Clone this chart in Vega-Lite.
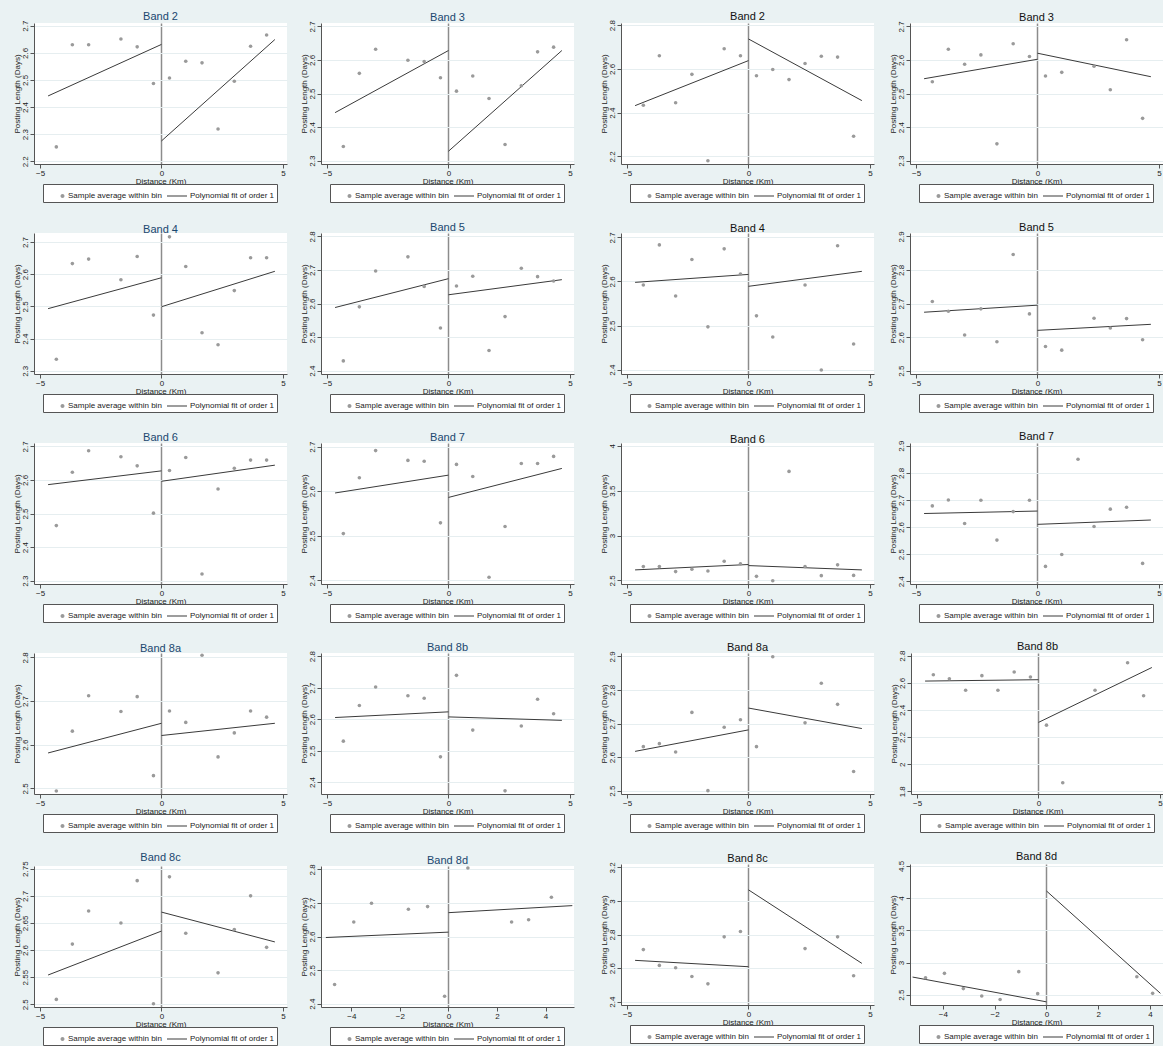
{
"$schema":"https://vega.github.io/schema/vega-lite/v6.json",
"background":"#eaf2f3",
"padding":{"left":12,"top":10,"right":0,"bottom":0},
"datasets":{
"pts":[
{"g":"L","b":"2","s":"Sample average within bin","x":-4.33,"y":2.253},{"g":"L","b":"2","s":"Sample average within bin","x":-3.67,"y":2.630},{"g":"L","b":"2","s":"Sample average within bin","x":-3,"y":2.630},{"g":"L","b":"2","s":"Sample average within bin","x":-1.67,"y":2.651},{"g":"L","b":"2","s":"Sample average within bin","x":-1,"y":2.622},{"g":"L","b":"2","s":"Sample average within bin","x":-0.33,"y":2.487},{"g":"L","b":"2","s":"Sample average within bin","x":0.33,"y":2.507},{"g":"L","b":"2","s":"Sample average within bin","x":1,"y":2.569},{"g":"L","b":"2","s":"Sample average within bin","x":1.67,"y":2.563},{"g":"L","b":"2","s":"Sample average within bin","x":2.33,"y":2.319},{"g":"L","b":"2","s":"Sample average within bin","x":3,"y":2.495},{"g":"L","b":"2","s":"Sample average within bin","x":3.67,"y":2.624},{"g":"L","b":"2","s":"Sample average within bin","x":4.33,"y":2.666},
{"g":"L","b":"3","s":"Sample average within bin","x":-4.33,"y":2.342},{"g":"L","b":"3","s":"Sample average within bin","x":-3.67,"y":2.560},{"g":"L","b":"3","s":"Sample average within bin","x":-3,"y":2.632},{"g":"L","b":"3","s":"Sample average within bin","x":-1.67,"y":2.599},{"g":"L","b":"3","s":"Sample average within bin","x":-1,"y":2.595},{"g":"L","b":"3","s":"Sample average within bin","x":-0.33,"y":2.547},{"g":"L","b":"3","s":"Sample average within bin","x":0.33,"y":2.507},{"g":"L","b":"3","s":"Sample average within bin","x":1,"y":2.552},{"g":"L","b":"3","s":"Sample average within bin","x":1.67,"y":2.485},{"g":"L","b":"3","s":"Sample average within bin","x":2.33,"y":2.348},{"g":"L","b":"3","s":"Sample average within bin","x":3,"y":2.523},{"g":"L","b":"3","s":"Sample average within bin","x":3.67,"y":2.624},{"g":"L","b":"3","s":"Sample average within bin","x":4.33,"y":2.638},
{"g":"L","b":"4","s":"Sample average within bin","x":-4.33,"y":2.336},{"g":"L","b":"4","s":"Sample average within bin","x":-3.67,"y":2.633},{"g":"L","b":"4","s":"Sample average within bin","x":-3,"y":2.647},{"g":"L","b":"4","s":"Sample average within bin","x":-1.67,"y":2.583},{"g":"L","b":"4","s":"Sample average within bin","x":-1,"y":2.655},{"g":"L","b":"4","s":"Sample average within bin","x":-0.33,"y":2.473},{"g":"L","b":"4","s":"Sample average within bin","x":0.33,"y":2.716},{"g":"L","b":"4","s":"Sample average within bin","x":1,"y":2.624},{"g":"L","b":"4","s":"Sample average within bin","x":1.67,"y":2.418},{"g":"L","b":"4","s":"Sample average within bin","x":2.33,"y":2.381},{"g":"L","b":"4","s":"Sample average within bin","x":3,"y":2.549},{"g":"L","b":"4","s":"Sample average within bin","x":3.67,"y":2.651},{"g":"L","b":"4","s":"Sample average within bin","x":4.33,"y":2.651},
{"g":"L","b":"5","s":"Sample average within bin","x":-4.33,"y":2.429},{"g":"L","b":"5","s":"Sample average within bin","x":-3.67,"y":2.590},{"g":"L","b":"5","s":"Sample average within bin","x":-3,"y":2.697},{"g":"L","b":"5","s":"Sample average within bin","x":-1.67,"y":2.739},{"g":"L","b":"5","s":"Sample average within bin","x":-1,"y":2.651},{"g":"L","b":"5","s":"Sample average within bin","x":-0.33,"y":2.527},{"g":"L","b":"5","s":"Sample average within bin","x":0.33,"y":2.652},{"g":"L","b":"5","s":"Sample average within bin","x":1,"y":2.681},{"g":"L","b":"5","s":"Sample average within bin","x":1.67,"y":2.460},{"g":"L","b":"5","s":"Sample average within bin","x":2.33,"y":2.561},{"g":"L","b":"5","s":"Sample average within bin","x":3,"y":2.705},{"g":"L","b":"5","s":"Sample average within bin","x":3.67,"y":2.680},{"g":"L","b":"5","s":"Sample average within bin","x":4.33,"y":2.667},
{"g":"L","b":"6","s":"Sample average within bin","x":-4.33,"y":2.464},{"g":"L","b":"6","s":"Sample average within bin","x":-3.67,"y":2.623},{"g":"L","b":"6","s":"Sample average within bin","x":-3,"y":2.687},{"g":"L","b":"6","s":"Sample average within bin","x":-1.67,"y":2.669},{"g":"L","b":"6","s":"Sample average within bin","x":-1,"y":2.642},{"g":"L","b":"6","s":"Sample average within bin","x":-0.33,"y":2.501},{"g":"L","b":"6","s":"Sample average within bin","x":0.33,"y":2.628},{"g":"L","b":"6","s":"Sample average within bin","x":1,"y":2.667},{"g":"L","b":"6","s":"Sample average within bin","x":1.67,"y":2.320},{"g":"L","b":"6","s":"Sample average within bin","x":2.33,"y":2.573},{"g":"L","b":"6","s":"Sample average within bin","x":3,"y":2.635},{"g":"L","b":"6","s":"Sample average within bin","x":3.67,"y":2.659},{"g":"L","b":"6","s":"Sample average within bin","x":4.33,"y":2.659},
{"g":"L","b":"7","s":"Sample average within bin","x":-4.33,"y":2.505},{"g":"L","b":"7","s":"Sample average within bin","x":-3.67,"y":2.630},{"g":"L","b":"7","s":"Sample average within bin","x":-3,"y":2.691},{"g":"L","b":"7","s":"Sample average within bin","x":-1.67,"y":2.669},{"g":"L","b":"7","s":"Sample average within bin","x":-1,"y":2.667},{"g":"L","b":"7","s":"Sample average within bin","x":-0.33,"y":2.529},{"g":"L","b":"7","s":"Sample average within bin","x":0.33,"y":2.660},{"g":"L","b":"7","s":"Sample average within bin","x":1,"y":2.633},{"g":"L","b":"7","s":"Sample average within bin","x":1.67,"y":2.407},{"g":"L","b":"7","s":"Sample average within bin","x":2.33,"y":2.521},{"g":"L","b":"7","s":"Sample average within bin","x":3,"y":2.662},{"g":"L","b":"7","s":"Sample average within bin","x":3.67,"y":2.662},{"g":"L","b":"7","s":"Sample average within bin","x":4.33,"y":2.678},
{"g":"L","b":"8a","s":"Sample average within bin","x":-4.33,"y":2.494},{"g":"L","b":"8a","s":"Sample average within bin","x":-3.67,"y":2.631},{"g":"L","b":"8a","s":"Sample average within bin","x":-3,"y":2.712},{"g":"L","b":"8a","s":"Sample average within bin","x":-1.67,"y":2.676},{"g":"L","b":"8a","s":"Sample average within bin","x":-1,"y":2.710},{"g":"L","b":"8a","s":"Sample average within bin","x":-0.33,"y":2.529},{"g":"L","b":"8a","s":"Sample average within bin","x":0.33,"y":2.677},{"g":"L","b":"8a","s":"Sample average within bin","x":1,"y":2.651},{"g":"L","b":"8a","s":"Sample average within bin","x":1.67,"y":2.805},{"g":"L","b":"8a","s":"Sample average within bin","x":2.33,"y":2.572},{"g":"L","b":"8a","s":"Sample average within bin","x":3,"y":2.627},{"g":"L","b":"8a","s":"Sample average within bin","x":3.67,"y":2.677},{"g":"L","b":"8a","s":"Sample average within bin","x":4.33,"y":2.663},
{"g":"L","b":"8b","s":"Sample average within bin","x":-4.33,"y":2.530},{"g":"L","b":"8b","s":"Sample average within bin","x":-3.67,"y":2.643},{"g":"L","b":"8b","s":"Sample average within bin","x":-3,"y":2.702},{"g":"L","b":"8b","s":"Sample average within bin","x":-1.67,"y":2.674},{"g":"L","b":"8b","s":"Sample average within bin","x":-1,"y":2.666},{"g":"L","b":"8b","s":"Sample average within bin","x":-0.33,"y":2.480},{"g":"L","b":"8b","s":"Sample average within bin","x":0.33,"y":2.739},{"g":"L","b":"8b","s":"Sample average within bin","x":1,"y":2.565},{"g":"L","b":"8b","s":"Sample average within bin","x":2.33,"y":2.372},{"g":"L","b":"8b","s":"Sample average within bin","x":3,"y":2.578},{"g":"L","b":"8b","s":"Sample average within bin","x":3.67,"y":2.663},{"g":"L","b":"8b","s":"Sample average within bin","x":4.33,"y":2.617},
{"g":"L","b":"8c","s":"Sample average within bin","x":-4.33,"y":2.509},{"g":"L","b":"8c","s":"Sample average within bin","x":-3.67,"y":2.611},{"g":"L","b":"8c","s":"Sample average within bin","x":-3,"y":2.672},{"g":"L","b":"8c","s":"Sample average within bin","x":-1.67,"y":2.650},{"g":"L","b":"8c","s":"Sample average within bin","x":-1,"y":2.728},{"g":"L","b":"8c","s":"Sample average within bin","x":-0.33,"y":2.501},{"g":"L","b":"8c","s":"Sample average within bin","x":0.33,"y":2.735},{"g":"L","b":"8c","s":"Sample average within bin","x":1,"y":2.631},{"g":"L","b":"8c","s":"Sample average within bin","x":2.33,"y":2.558},{"g":"L","b":"8c","s":"Sample average within bin","x":3,"y":2.638},{"g":"L","b":"8c","s":"Sample average within bin","x":3.67,"y":2.700},{"g":"L","b":"8c","s":"Sample average within bin","x":4.33,"y":2.605},
{"g":"L","b":"8d","s":"Sample average within bin","x":-4.69,"y":2.457},{"g":"L","b":"8d","s":"Sample average within bin","x":-3.9,"y":2.643},{"g":"L","b":"8d","s":"Sample average within bin","x":-3.17,"y":2.699},{"g":"L","b":"8d","s":"Sample average within bin","x":-1.65,"y":2.681},{"g":"L","b":"8d","s":"Sample average within bin","x":-0.86,"y":2.689},{"g":"L","b":"8d","s":"Sample average within bin","x":-0.16,"y":2.422},{"g":"L","b":"8d","s":"Sample average within bin","x":0.8,"y":2.804},{"g":"L","b":"8d","s":"Sample average within bin","x":2.6,"y":2.643},{"g":"L","b":"8d","s":"Sample average within bin","x":3.3,"y":2.650},{"g":"L","b":"8d","s":"Sample average within bin","x":4.24,"y":2.717},
{"g":"R","b":"2","s":"Sample average within bin","x":-4.33,"y":2.434},{"g":"R","b":"2","s":"Sample average within bin","x":-3.67,"y":2.660},{"g":"R","b":"2","s":"Sample average within bin","x":-3,"y":2.445},{"g":"R","b":"2","s":"Sample average within bin","x":-2.33,"y":2.575},{"g":"R","b":"2","s":"Sample average within bin","x":-1.67,"y":2.180},{"g":"R","b":"2","s":"Sample average within bin","x":-1,"y":2.692},{"g":"R","b":"2","s":"Sample average within bin","x":-0.33,"y":2.660},{"g":"R","b":"2","s":"Sample average within bin","x":0.33,"y":2.569},{"g":"R","b":"2","s":"Sample average within bin","x":1,"y":2.597},{"g":"R","b":"2","s":"Sample average within bin","x":1.67,"y":2.551},{"g":"R","b":"2","s":"Sample average within bin","x":2.33,"y":2.625},{"g":"R","b":"2","s":"Sample average within bin","x":3,"y":2.658},{"g":"R","b":"2","s":"Sample average within bin","x":3.67,"y":2.654},{"g":"R","b":"2","s":"Sample average within bin","x":4.33,"y":2.292},
{"g":"R","b":"3","s":"Sample average within bin","x":-4.33,"y":2.535},{"g":"R","b":"3","s":"Sample average within bin","x":-3.67,"y":2.632},{"g":"R","b":"3","s":"Sample average within bin","x":-3,"y":2.587},{"g":"R","b":"3","s":"Sample average within bin","x":-2.33,"y":2.615},{"g":"R","b":"3","s":"Sample average within bin","x":-1.67,"y":2.350},{"g":"R","b":"3","s":"Sample average within bin","x":-1,"y":2.648},{"g":"R","b":"3","s":"Sample average within bin","x":-0.33,"y":2.610},{"g":"R","b":"3","s":"Sample average within bin","x":0.33,"y":2.552},{"g":"R","b":"3","s":"Sample average within bin","x":1,"y":2.563},{"g":"R","b":"3","s":"Sample average within bin","x":2.33,"y":2.581},{"g":"R","b":"3","s":"Sample average within bin","x":3,"y":2.511},{"g":"R","b":"3","s":"Sample average within bin","x":3.67,"y":2.660},{"g":"R","b":"3","s":"Sample average within bin","x":4.33,"y":2.426},
{"g":"R","b":"4","s":"Sample average within bin","x":-4.33,"y":2.592},{"g":"R","b":"4","s":"Sample average within bin","x":-3.67,"y":2.683},{"g":"R","b":"4","s":"Sample average within bin","x":-3,"y":2.567},{"g":"R","b":"4","s":"Sample average within bin","x":-2.33,"y":2.650},{"g":"R","b":"4","s":"Sample average within bin","x":-1.67,"y":2.497},{"g":"R","b":"4","s":"Sample average within bin","x":-1,"y":2.674},{"g":"R","b":"4","s":"Sample average within bin","x":-0.33,"y":2.617},{"g":"R","b":"4","s":"Sample average within bin","x":0.33,"y":2.522},{"g":"R","b":"4","s":"Sample average within bin","x":1,"y":2.474},{"g":"R","b":"4","s":"Sample average within bin","x":2.33,"y":2.592},{"g":"R","b":"4","s":"Sample average within bin","x":3,"y":2.399},{"g":"R","b":"4","s":"Sample average within bin","x":3.67,"y":2.681},{"g":"R","b":"4","s":"Sample average within bin","x":4.33,"y":2.458},
{"g":"R","b":"5","s":"Sample average within bin","x":-4.33,"y":2.706},{"g":"R","b":"5","s":"Sample average within bin","x":-3.67,"y":2.677},{"g":"R","b":"5","s":"Sample average within bin","x":-3,"y":2.606},{"g":"R","b":"5","s":"Sample average within bin","x":-2.33,"y":2.684},{"g":"R","b":"5","s":"Sample average within bin","x":-1.67,"y":2.586},{"g":"R","b":"5","s":"Sample average within bin","x":-1,"y":2.846},{"g":"R","b":"5","s":"Sample average within bin","x":-0.33,"y":2.669},{"g":"R","b":"5","s":"Sample average within bin","x":0.33,"y":2.572},{"g":"R","b":"5","s":"Sample average within bin","x":1,"y":2.561},{"g":"R","b":"5","s":"Sample average within bin","x":2.33,"y":2.656},{"g":"R","b":"5","s":"Sample average within bin","x":3,"y":2.627},{"g":"R","b":"5","s":"Sample average within bin","x":3.67,"y":2.655},{"g":"R","b":"5","s":"Sample average within bin","x":4.33,"y":2.592},
{"g":"R","b":"6","s":"Sample average within bin","x":-4.33,"y":2.654},{"g":"R","b":"6","s":"Sample average within bin","x":-3.67,"y":2.654},{"g":"R","b":"6","s":"Sample average within bin","x":-3,"y":2.598},{"g":"R","b":"6","s":"Sample average within bin","x":-2.33,"y":2.624},{"g":"R","b":"6","s":"Sample average within bin","x":-1.67,"y":2.605},{"g":"R","b":"6","s":"Sample average within bin","x":-1,"y":2.714},{"g":"R","b":"6","s":"Sample average within bin","x":-0.33,"y":2.684},{"g":"R","b":"6","s":"Sample average within bin","x":0.33,"y":2.545},{"g":"R","b":"6","s":"Sample average within bin","x":1,"y":2.496},{"g":"R","b":"6","s":"Sample average within bin","x":1.67,"y":3.714},{"g":"R","b":"6","s":"Sample average within bin","x":2.33,"y":2.654},{"g":"R","b":"6","s":"Sample average within bin","x":3,"y":2.553},{"g":"R","b":"6","s":"Sample average within bin","x":3.67,"y":2.673},{"g":"R","b":"6","s":"Sample average within bin","x":4.33,"y":2.556},
{"g":"R","b":"7","s":"Sample average within bin","x":-4.33,"y":2.678},{"g":"R","b":"7","s":"Sample average within bin","x":-3.67,"y":2.700},{"g":"R","b":"7","s":"Sample average within bin","x":-3,"y":2.613},{"g":"R","b":"7","s":"Sample average within bin","x":-2.33,"y":2.699},{"g":"R","b":"7","s":"Sample average within bin","x":-1.67,"y":2.552},{"g":"R","b":"7","s":"Sample average within bin","x":-1,"y":2.657},{"g":"R","b":"7","s":"Sample average within bin","x":-0.33,"y":2.699},{"g":"R","b":"7","s":"Sample average within bin","x":0.33,"y":2.455},{"g":"R","b":"7","s":"Sample average within bin","x":1,"y":2.499},{"g":"R","b":"7","s":"Sample average within bin","x":1.67,"y":2.850},{"g":"R","b":"7","s":"Sample average within bin","x":2.33,"y":2.602},{"g":"R","b":"7","s":"Sample average within bin","x":3,"y":2.666},{"g":"R","b":"7","s":"Sample average within bin","x":3.67,"y":2.673},{"g":"R","b":"7","s":"Sample average within bin","x":4.33,"y":2.466},
{"g":"R","b":"8a","s":"Sample average within bin","x":-4.33,"y":2.631},{"g":"R","b":"8a","s":"Sample average within bin","x":-3.67,"y":2.640},{"g":"R","b":"8a","s":"Sample average within bin","x":-3,"y":2.615},{"g":"R","b":"8a","s":"Sample average within bin","x":-2.33,"y":2.733},{"g":"R","b":"8a","s":"Sample average within bin","x":-1.67,"y":2.500},{"g":"R","b":"8a","s":"Sample average within bin","x":-1,"y":2.689},{"g":"R","b":"8a","s":"Sample average within bin","x":-0.33,"y":2.711},{"g":"R","b":"8a","s":"Sample average within bin","x":0.33,"y":2.631},{"g":"R","b":"8a","s":"Sample average within bin","x":1,"y":2.899},{"g":"R","b":"8a","s":"Sample average within bin","x":2.33,"y":2.702},{"g":"R","b":"8a","s":"Sample average within bin","x":3,"y":2.820},{"g":"R","b":"8a","s":"Sample average within bin","x":3.67,"y":2.757},{"g":"R","b":"8a","s":"Sample average within bin","x":4.33,"y":2.557},
{"g":"R","b":"8b","s":"Sample average within bin","x":-4.33,"y":2.660},{"g":"R","b":"8b","s":"Sample average within bin","x":-3.67,"y":2.630},{"g":"R","b":"8b","s":"Sample average within bin","x":-3,"y":2.545},{"g":"R","b":"8b","s":"Sample average within bin","x":-2.33,"y":2.653},{"g":"R","b":"8b","s":"Sample average within bin","x":-1.67,"y":2.545},{"g":"R","b":"8b","s":"Sample average within bin","x":-1,"y":2.680},{"g":"R","b":"8b","s":"Sample average within bin","x":-0.33,"y":2.643},{"g":"R","b":"8b","s":"Sample average within bin","x":0.33,"y":2.288},{"g":"R","b":"8b","s":"Sample average within bin","x":1,"y":1.863},{"g":"R","b":"8b","s":"Sample average within bin","x":2.33,"y":2.545},{"g":"R","b":"8b","s":"Sample average within bin","x":3.67,"y":2.748},{"g":"R","b":"8b","s":"Sample average within bin","x":4.33,"y":2.505},
{"g":"R","b":"8c","s":"Sample average within bin","x":-4.33,"y":2.710},{"g":"R","b":"8c","s":"Sample average within bin","x":-3.67,"y":2.616},{"g":"R","b":"8c","s":"Sample average within bin","x":-3,"y":2.602},{"g":"R","b":"8c","s":"Sample average within bin","x":-2.33,"y":2.550},{"g":"R","b":"8c","s":"Sample average within bin","x":-1.67,"y":2.506},{"g":"R","b":"8c","s":"Sample average within bin","x":-1,"y":2.786},{"g":"R","b":"8c","s":"Sample average within bin","x":-0.33,"y":2.818},{"g":"R","b":"8c","s":"Sample average within bin","x":2.33,"y":2.716},{"g":"R","b":"8c","s":"Sample average within bin","x":3.67,"y":2.786},{"g":"R","b":"8c","s":"Sample average within bin","x":4.33,"y":2.554},
{"g":"R","b":"8d","s":"Sample average within bin","x":-4.67,"y":2.763},{"g":"R","b":"8d","s":"Sample average within bin","x":-3.94,"y":2.832},{"g":"R","b":"8d","s":"Sample average within bin","x":-3.21,"y":2.595},{"g":"R","b":"8d","s":"Sample average within bin","x":-2.5,"y":2.479},{"g":"R","b":"8d","s":"Sample average within bin","x":-1.79,"y":2.426},{"g":"R","b":"8d","s":"Sample average within bin","x":-1.07,"y":2.858},{"g":"R","b":"8d","s":"Sample average within bin","x":-0.34,"y":2.516},{"g":"R","b":"8d","s":"Sample average within bin","x":3.49,"y":2.779},{"g":"R","b":"8d","s":"Sample average within bin","x":4.1,"y":2.521}
],
"fits":[
{"g":"L","b":"2","seg":"l","x":-4.67,"y":2.441},{"g":"L","b":"2","seg":"l","x":0,"y":2.631},{"g":"L","b":"2","seg":"r","x":0,"y":2.275},{"g":"L","b":"2","seg":"r","x":4.67,"y":2.649},
{"g":"L","b":"3","seg":"l","x":-4.67,"y":2.443},{"g":"L","b":"3","seg":"l","x":0,"y":2.628},{"g":"L","b":"3","seg":"r","x":0,"y":2.328},{"g":"L","b":"3","seg":"r","x":4.67,"y":2.628},
{"g":"L","b":"4","seg":"l","x":-4.67,"y":2.493},{"g":"L","b":"4","seg":"l","x":0,"y":2.589},{"g":"L","b":"4","seg":"r","x":0,"y":2.499},{"g":"L","b":"4","seg":"r","x":4.67,"y":2.609},
{"g":"L","b":"5","seg":"l","x":-4.67,"y":2.588},{"g":"L","b":"5","seg":"l","x":0,"y":2.674},{"g":"L","b":"5","seg":"r","x":0,"y":2.626},{"g":"L","b":"5","seg":"r","x":4.67,"y":2.671},
{"g":"L","b":"6","seg":"l","x":-4.67,"y":2.586},{"g":"L","b":"6","seg":"l","x":0,"y":2.627},{"g":"L","b":"6","seg":"r","x":0,"y":2.596},{"g":"L","b":"6","seg":"r","x":4.67,"y":2.644},
{"g":"L","b":"7","seg":"l","x":-4.67,"y":2.596},{"g":"L","b":"7","seg":"l","x":0,"y":2.636},{"g":"L","b":"7","seg":"r","x":0,"y":2.586},{"g":"L","b":"7","seg":"r","x":4.67,"y":2.651},
{"g":"L","b":"8a","seg":"l","x":-4.67,"y":2.581},{"g":"L","b":"8a","seg":"l","x":0,"y":2.649},{"g":"L","b":"8a","seg":"r","x":0,"y":2.621},{"g":"L","b":"8a","seg":"r","x":4.67,"y":2.649},
{"g":"L","b":"8b","seg":"l","x":-4.67,"y":2.605},{"g":"L","b":"8b","seg":"l","x":0,"y":2.623},{"g":"L","b":"8b","seg":"r","x":0,"y":2.607},{"g":"L","b":"8b","seg":"r","x":4.67,"y":2.596},
{"g":"L","b":"8c","seg":"l","x":-4.67,"y":2.554},{"g":"L","b":"8c","seg":"l","x":0,"y":2.635},{"g":"L","b":"8c","seg":"r","x":0,"y":2.670},{"g":"L","b":"8c","seg":"r","x":4.67,"y":2.615},
{"g":"L","b":"8d","seg":"l","x":-5.05,"y":2.597},{"g":"L","b":"8d","seg":"l","x":0,"y":2.613},{"g":"L","b":"8d","seg":"r","x":0,"y":2.671},{"g":"L","b":"8d","seg":"r","x":5.1,"y":2.692},
{"g":"R","b":"2","seg":"l","x":-4.67,"y":2.432},{"g":"R","b":"2","seg":"l","x":0,"y":2.638},{"g":"R","b":"2","seg":"r","x":0,"y":2.737},{"g":"R","b":"2","seg":"r","x":4.67,"y":2.455},
{"g":"R","b":"3","seg":"l","x":-4.67,"y":2.544},{"g":"R","b":"3","seg":"l","x":0,"y":2.602},{"g":"R","b":"3","seg":"r","x":0,"y":2.620},{"g":"R","b":"3","seg":"r","x":4.67,"y":2.550},
{"g":"R","b":"4","seg":"l","x":-4.67,"y":2.598},{"g":"R","b":"4","seg":"l","x":0,"y":2.616},{"g":"R","b":"4","seg":"r","x":0,"y":2.589},{"g":"R","b":"4","seg":"r","x":4.67,"y":2.623},
{"g":"R","b":"5","seg":"l","x":-4.67,"y":2.674},{"g":"R","b":"5","seg":"l","x":0,"y":2.695},{"g":"R","b":"5","seg":"r","x":0,"y":2.620},{"g":"R","b":"5","seg":"r","x":4.67,"y":2.638},
{"g":"R","b":"6","seg":"l","x":-4.67,"y":2.617},{"g":"R","b":"6","seg":"l","x":0,"y":2.677},{"g":"R","b":"6","seg":"r","x":0,"y":2.665},{"g":"R","b":"6","seg":"r","x":4.67,"y":2.617},
{"g":"R","b":"7","seg":"l","x":-4.67,"y":2.650},{"g":"R","b":"7","seg":"l","x":0,"y":2.659},{"g":"R","b":"7","seg":"r","x":0,"y":2.610},{"g":"R","b":"7","seg":"r","x":4.67,"y":2.626},
{"g":"R","b":"8a","seg":"l","x":-4.67,"y":2.617},{"g":"R","b":"8a","seg":"l","x":0,"y":2.681},{"g":"R","b":"8a","seg":"r","x":0,"y":2.746},{"g":"R","b":"8a","seg":"r","x":4.67,"y":2.685},
{"g":"R","b":"8b","seg":"l","x":-4.67,"y":2.613},{"g":"R","b":"8b","seg":"l","x":0,"y":2.623},{"g":"R","b":"8b","seg":"r","x":0,"y":2.308},{"g":"R","b":"8b","seg":"r","x":4.67,"y":2.713},
{"g":"R","b":"8c","seg":"l","x":-4.67,"y":2.646},{"g":"R","b":"8c","seg":"l","x":0,"y":2.608},{"g":"R","b":"8c","seg":"r","x":0,"y":3.066},{"g":"R","b":"8c","seg":"r","x":4.67,"y":2.628},
{"g":"R","b":"8d","seg":"l","x":-5.17,"y":2.774},{"g":"R","b":"8d","seg":"l","x":0,"y":2.389},{"g":"R","b":"8d","seg":"r","x":0,"y":4.111},{"g":"R","b":"8d","seg":"r","x":4.4,"y":2.521}
]},
"spacing":25,
"resolve":{"scale":{"shape":"independent","color":"independent"}},
"hconcat":[
{"spacing":18,"resolve":{"scale":{"shape":"independent","color":"independent"}},"vconcat":[
{"spacing":13,"resolve":{"scale":{"shape":"independent","color":"independent"}},"hconcat":[
{"title":{"text":"Band 2","color":"#1a476f"},"width":253,"height":141,"encoding":{"x":{"field":"x","type":"quantitative","title":"Distance (Km)","scale":{"domain":[-5.25,5.17],"nice":false,"zero":false},"axis":{"values":[-5,0,5]}},"y":{"field":"y","type":"quantitative","title":"Posting Length (Days)","scale":{"domain":[2.19,2.71],"nice":false,"zero":false},"axis":{"values":[2.2,2.3,2.4,2.5,2.6,2.7]}}},
"layer":[{"data":{"name":"fits"},"transform":[{"filter":"datum.g=='L'&&datum.b=='2'"}],"mark":{"type":"line","color":"#3a3a3a","strokeWidth":1},"encoding":{"detail":{"field":"seg"}}},
{"data":{"name":"pts"},"transform":[{"filter":"datum.g=='L'&&datum.b=='2'"}],"mark":{"type":"circle","size":13,"color":"#9a9a9a","opacity":1}},
{"data":{"name":"pts"},"transform":[{"filter":"datum.g=='L'&&datum.b=='2'"}],"mark":{"type":"point","filled":true,"size":400,"opacity":0},"encoding":{"shape":{"field":"s","type":"nominal","scale":{"domain":["Sample average within bin","Polynomial fit of order 1"],"range":["M0.55,0A0.2,0.2,0,1,1,0.95,0A0.2,0.2,0,1,1,0.55,0Z","M-1,-0.05L1,-0.05L1,0.05L-1,0.05Z"]},"legend":{"title":null,"orient":"none","legendX":9,"legendY":161,"direction":"horizontal"}},"color":{"field":"s","type":"nominal","scale":{"domain":["Sample average within bin","Polynomial fit of order 1"],"range":["#9a9a9a","#3a3a3a"]},"legend":{"title":null,"orient":"none","legendX":9,"legendY":161,"direction":"horizontal"}}}}]},
{"title":{"text":"Band 3","color":"#1a476f"},"width":253,"height":141,"encoding":{"x":{"field":"x","type":"quantitative","title":"Distance (Km)","scale":{"domain":[-5.25,5.17],"nice":false,"zero":false},"axis":{"values":[-5,0,5]}},"y":{"field":"y","type":"quantitative","title":"Posting Length (Days)","scale":{"domain":[2.29,2.71],"nice":false,"zero":false},"axis":{"values":[2.3,2.4,2.5,2.6,2.7]}}},
"layer":[{"data":{"name":"fits"},"transform":[{"filter":"datum.g=='L'&&datum.b=='3'"}],"mark":{"type":"line","color":"#3a3a3a","strokeWidth":1},"encoding":{"detail":{"field":"seg"}}},
{"data":{"name":"pts"},"transform":[{"filter":"datum.g=='L'&&datum.b=='3'"}],"mark":{"type":"circle","size":13,"color":"#9a9a9a","opacity":1}},
{"data":{"name":"pts"},"transform":[{"filter":"datum.g=='L'&&datum.b=='3'"}],"mark":{"type":"point","filled":true,"size":400,"opacity":0},"encoding":{"shape":{"field":"s","type":"nominal","scale":{"domain":["Sample average within bin","Polynomial fit of order 1"],"range":["M0.55,0A0.2,0.2,0,1,1,0.95,0A0.2,0.2,0,1,1,0.55,0Z","M-1,-0.05L1,-0.05L1,0.05L-1,0.05Z"]},"legend":{"title":null,"orient":"none","legendX":9,"legendY":161,"direction":"horizontal"}},"color":{"field":"s","type":"nominal","scale":{"domain":["Sample average within bin","Polynomial fit of order 1"],"range":["#9a9a9a","#3a3a3a"]},"legend":{"title":null,"orient":"none","legendX":9,"legendY":161,"direction":"horizontal"}}}}]}
]},
{"spacing":13,"resolve":{"scale":{"shape":"independent","color":"independent"}},"hconcat":[
{"title":{"text":"Band 4","color":"#1a476f"},"width":253,"height":141,"encoding":{"x":{"field":"x","type":"quantitative","title":"Distance (Km)","scale":{"domain":[-5.25,5.17],"nice":false,"zero":false},"axis":{"values":[-5,0,5]}},"y":{"field":"y","type":"quantitative","title":"Posting Length (Days)","scale":{"domain":[2.29,2.728],"nice":false,"zero":false},"axis":{"values":[2.3,2.4,2.5,2.6,2.7]}}},
"layer":[{"data":{"name":"fits"},"transform":[{"filter":"datum.g=='L'&&datum.b=='4'"}],"mark":{"type":"line","color":"#3a3a3a","strokeWidth":1},"encoding":{"detail":{"field":"seg"}}},
{"data":{"name":"pts"},"transform":[{"filter":"datum.g=='L'&&datum.b=='4'"}],"mark":{"type":"circle","size":13,"color":"#9a9a9a","opacity":1}},
{"data":{"name":"pts"},"transform":[{"filter":"datum.g=='L'&&datum.b=='4'"}],"mark":{"type":"point","filled":true,"size":400,"opacity":0},"encoding":{"shape":{"field":"s","type":"nominal","scale":{"domain":["Sample average within bin","Polynomial fit of order 1"],"range":["M0.55,0A0.2,0.2,0,1,1,0.95,0A0.2,0.2,0,1,1,0.55,0Z","M-1,-0.05L1,-0.05L1,0.05L-1,0.05Z"]},"legend":{"title":null,"orient":"none","legendX":9,"legendY":161,"direction":"horizontal"}},"color":{"field":"s","type":"nominal","scale":{"domain":["Sample average within bin","Polynomial fit of order 1"],"range":["#9a9a9a","#3a3a3a"]},"legend":{"title":null,"orient":"none","legendX":9,"legendY":161,"direction":"horizontal"}}}}]},
{"title":{"text":"Band 5","color":"#1a476f"},"width":253,"height":141,"encoding":{"x":{"field":"x","type":"quantitative","title":"Distance (Km)","scale":{"domain":[-5.25,5.17],"nice":false,"zero":false},"axis":{"values":[-5,0,5]}},"y":{"field":"y","type":"quantitative","title":"Posting Length (Days)","scale":{"domain":[2.39,2.81],"nice":false,"zero":false},"axis":{"values":[2.4,2.5,2.6,2.7,2.8]}}},
"layer":[{"data":{"name":"fits"},"transform":[{"filter":"datum.g=='L'&&datum.b=='5'"}],"mark":{"type":"line","color":"#3a3a3a","strokeWidth":1},"encoding":{"detail":{"field":"seg"}}},
{"data":{"name":"pts"},"transform":[{"filter":"datum.g=='L'&&datum.b=='5'"}],"mark":{"type":"circle","size":13,"color":"#9a9a9a","opacity":1}},
{"data":{"name":"pts"},"transform":[{"filter":"datum.g=='L'&&datum.b=='5'"}],"mark":{"type":"point","filled":true,"size":400,"opacity":0},"encoding":{"shape":{"field":"s","type":"nominal","scale":{"domain":["Sample average within bin","Polynomial fit of order 1"],"range":["M0.55,0A0.2,0.2,0,1,1,0.95,0A0.2,0.2,0,1,1,0.55,0Z","M-1,-0.05L1,-0.05L1,0.05L-1,0.05Z"]},"legend":{"title":null,"orient":"none","legendX":9,"legendY":161,"direction":"horizontal"}},"color":{"field":"s","type":"nominal","scale":{"domain":["Sample average within bin","Polynomial fit of order 1"],"range":["#9a9a9a","#3a3a3a"]},"legend":{"title":null,"orient":"none","legendX":9,"legendY":161,"direction":"horizontal"}}}}]}
]},
{"spacing":13,"resolve":{"scale":{"shape":"independent","color":"independent"}},"hconcat":[
{"title":{"text":"Band 6","color":"#1a476f"},"width":253,"height":141,"encoding":{"x":{"field":"x","type":"quantitative","title":"Distance (Km)","scale":{"domain":[-5.25,5.17],"nice":false,"zero":false},"axis":{"values":[-5,0,5]}},"y":{"field":"y","type":"quantitative","title":"Posting Length (Days)","scale":{"domain":[2.29,2.71],"nice":false,"zero":false},"axis":{"values":[2.3,2.4,2.5,2.6,2.7]}}},
"layer":[{"data":{"name":"fits"},"transform":[{"filter":"datum.g=='L'&&datum.b=='6'"}],"mark":{"type":"line","color":"#3a3a3a","strokeWidth":1},"encoding":{"detail":{"field":"seg"}}},
{"data":{"name":"pts"},"transform":[{"filter":"datum.g=='L'&&datum.b=='6'"}],"mark":{"type":"circle","size":13,"color":"#9a9a9a","opacity":1}},
{"data":{"name":"pts"},"transform":[{"filter":"datum.g=='L'&&datum.b=='6'"}],"mark":{"type":"point","filled":true,"size":400,"opacity":0},"encoding":{"shape":{"field":"s","type":"nominal","scale":{"domain":["Sample average within bin","Polynomial fit of order 1"],"range":["M0.55,0A0.2,0.2,0,1,1,0.95,0A0.2,0.2,0,1,1,0.55,0Z","M-1,-0.05L1,-0.05L1,0.05L-1,0.05Z"]},"legend":{"title":null,"orient":"none","legendX":9,"legendY":161,"direction":"horizontal"}},"color":{"field":"s","type":"nominal","scale":{"domain":["Sample average within bin","Polynomial fit of order 1"],"range":["#9a9a9a","#3a3a3a"]},"legend":{"title":null,"orient":"none","legendX":9,"legendY":161,"direction":"horizontal"}}}}]},
{"title":{"text":"Band 7","color":"#1a476f"},"width":253,"height":141,"encoding":{"x":{"field":"x","type":"quantitative","title":"Distance (Km)","scale":{"domain":[-5.25,5.17],"nice":false,"zero":false},"axis":{"values":[-5,0,5]}},"y":{"field":"y","type":"quantitative","title":"Posting Length (Days)","scale":{"domain":[2.392,2.708],"nice":false,"zero":false},"axis":{"values":[2.4,2.5,2.6,2.7]}}},
"layer":[{"data":{"name":"fits"},"transform":[{"filter":"datum.g=='L'&&datum.b=='7'"}],"mark":{"type":"line","color":"#3a3a3a","strokeWidth":1},"encoding":{"detail":{"field":"seg"}}},
{"data":{"name":"pts"},"transform":[{"filter":"datum.g=='L'&&datum.b=='7'"}],"mark":{"type":"circle","size":13,"color":"#9a9a9a","opacity":1}},
{"data":{"name":"pts"},"transform":[{"filter":"datum.g=='L'&&datum.b=='7'"}],"mark":{"type":"point","filled":true,"size":400,"opacity":0},"encoding":{"shape":{"field":"s","type":"nominal","scale":{"domain":["Sample average within bin","Polynomial fit of order 1"],"range":["M0.55,0A0.2,0.2,0,1,1,0.95,0A0.2,0.2,0,1,1,0.55,0Z","M-1,-0.05L1,-0.05L1,0.05L-1,0.05Z"]},"legend":{"title":null,"orient":"none","legendX":9,"legendY":161,"direction":"horizontal"}},"color":{"field":"s","type":"nominal","scale":{"domain":["Sample average within bin","Polynomial fit of order 1"],"range":["#9a9a9a","#3a3a3a"]},"legend":{"title":null,"orient":"none","legendX":9,"legendY":161,"direction":"horizontal"}}}}]}
]},
{"spacing":13,"resolve":{"scale":{"shape":"independent","color":"independent"}},"hconcat":[
{"title":{"text":"Band 8a","color":"#1a476f"},"width":253,"height":141,"encoding":{"x":{"field":"x","type":"quantitative","title":"Distance (Km)","scale":{"domain":[-5.25,5.17],"nice":false,"zero":false},"axis":{"values":[-5,0,5]}},"y":{"field":"y","type":"quantitative","title":"Posting Length (Days)","scale":{"domain":[2.487,2.81],"nice":false,"zero":false},"axis":{"values":[2.5,2.6,2.7,2.8]}}},
"layer":[{"data":{"name":"fits"},"transform":[{"filter":"datum.g=='L'&&datum.b=='8a'"}],"mark":{"type":"line","color":"#3a3a3a","strokeWidth":1},"encoding":{"detail":{"field":"seg"}}},
{"data":{"name":"pts"},"transform":[{"filter":"datum.g=='L'&&datum.b=='8a'"}],"mark":{"type":"circle","size":13,"color":"#9a9a9a","opacity":1}},
{"data":{"name":"pts"},"transform":[{"filter":"datum.g=='L'&&datum.b=='8a'"}],"mark":{"type":"point","filled":true,"size":400,"opacity":0},"encoding":{"shape":{"field":"s","type":"nominal","scale":{"domain":["Sample average within bin","Polynomial fit of order 1"],"range":["M0.55,0A0.2,0.2,0,1,1,0.95,0A0.2,0.2,0,1,1,0.55,0Z","M-1,-0.05L1,-0.05L1,0.05L-1,0.05Z"]},"legend":{"title":null,"orient":"none","legendX":9,"legendY":161,"direction":"horizontal"}},"color":{"field":"s","type":"nominal","scale":{"domain":["Sample average within bin","Polynomial fit of order 1"],"range":["#9a9a9a","#3a3a3a"]},"legend":{"title":null,"orient":"none","legendX":9,"legendY":161,"direction":"horizontal"}}}}]},
{"title":{"text":"Band 8b","color":"#1a476f"},"width":253,"height":141,"encoding":{"x":{"field":"x","type":"quantitative","title":"Distance (Km)","scale":{"domain":[-5.25,5.17],"nice":false,"zero":false},"axis":{"values":[-5,0,5]}},"y":{"field":"y","type":"quantitative","title":"Posting Length (Days)","scale":{"domain":[2.362,2.81],"nice":false,"zero":false},"axis":{"values":[2.4,2.5,2.6,2.7,2.8]}}},
"layer":[{"data":{"name":"fits"},"transform":[{"filter":"datum.g=='L'&&datum.b=='8b'"}],"mark":{"type":"line","color":"#3a3a3a","strokeWidth":1},"encoding":{"detail":{"field":"seg"}}},
{"data":{"name":"pts"},"transform":[{"filter":"datum.g=='L'&&datum.b=='8b'"}],"mark":{"type":"circle","size":13,"color":"#9a9a9a","opacity":1}},
{"data":{"name":"pts"},"transform":[{"filter":"datum.g=='L'&&datum.b=='8b'"}],"mark":{"type":"point","filled":true,"size":400,"opacity":0},"encoding":{"shape":{"field":"s","type":"nominal","scale":{"domain":["Sample average within bin","Polynomial fit of order 1"],"range":["M0.55,0A0.2,0.2,0,1,1,0.95,0A0.2,0.2,0,1,1,0.55,0Z","M-1,-0.05L1,-0.05L1,0.05L-1,0.05Z"]},"legend":{"title":null,"orient":"none","legendX":9,"legendY":161,"direction":"horizontal"}},"color":{"field":"s","type":"nominal","scale":{"domain":["Sample average within bin","Polynomial fit of order 1"],"range":["#9a9a9a","#3a3a3a"]},"legend":{"title":null,"orient":"none","legendX":9,"legendY":161,"direction":"horizontal"}}}}]}
]},
{"spacing":13,"resolve":{"scale":{"shape":"independent","color":"independent"}},"hconcat":[
{"title":{"text":"Band 8c","color":"#1a476f"},"width":253,"height":141,"encoding":{"x":{"field":"x","type":"quantitative","title":"Distance (Km)","scale":{"domain":[-5.25,5.17],"nice":false,"zero":false},"axis":{"values":[-5,0,5]}},"y":{"field":"y","type":"quantitative","title":"Posting Length (Days)","scale":{"domain":[2.495,2.755],"nice":false,"zero":false},"axis":{"values":[2.5,2.55,2.6,2.65,2.7,2.75]}}},
"layer":[{"data":{"name":"fits"},"transform":[{"filter":"datum.g=='L'&&datum.b=='8c'"}],"mark":{"type":"line","color":"#3a3a3a","strokeWidth":1},"encoding":{"detail":{"field":"seg"}}},
{"data":{"name":"pts"},"transform":[{"filter":"datum.g=='L'&&datum.b=='8c'"}],"mark":{"type":"circle","size":13,"color":"#9a9a9a","opacity":1}},
{"data":{"name":"pts"},"transform":[{"filter":"datum.g=='L'&&datum.b=='8c'"}],"mark":{"type":"point","filled":true,"size":400,"opacity":0},"encoding":{"shape":{"field":"s","type":"nominal","scale":{"domain":["Sample average within bin","Polynomial fit of order 1"],"range":["M0.55,0A0.2,0.2,0,1,1,0.95,0A0.2,0.2,0,1,1,0.55,0Z","M-1,-0.05L1,-0.05L1,0.05L-1,0.05Z"]},"legend":{"title":null,"orient":"none","legendX":9,"legendY":161,"direction":"horizontal"}},"color":{"field":"s","type":"nominal","scale":{"domain":["Sample average within bin","Polynomial fit of order 1"],"range":["#9a9a9a","#3a3a3a"]},"legend":{"title":null,"orient":"none","legendX":9,"legendY":161,"direction":"horizontal"}}}}]},
{"title":{"text":"Band 8d","color":"#1a476f"},"width":253,"height":141,"encoding":{"x":{"field":"x","type":"quantitative","title":"Distance (Km)","scale":{"domain":[-5.25,5.17],"nice":false,"zero":false},"axis":{"values":[-4,-2,0,2,4]}},"y":{"field":"y","type":"quantitative","title":"Posting Length (Days)","scale":{"domain":[2.39,2.81],"nice":false,"zero":false},"axis":{"values":[2.4,2.5,2.6,2.7,2.8]}}},
"layer":[{"data":{"name":"fits"},"transform":[{"filter":"datum.g=='L'&&datum.b=='8d'"}],"mark":{"type":"line","color":"#3a3a3a","strokeWidth":1},"encoding":{"detail":{"field":"seg"}}},
{"data":{"name":"pts"},"transform":[{"filter":"datum.g=='L'&&datum.b=='8d'"}],"mark":{"type":"circle","size":13,"color":"#9a9a9a","opacity":1}},
{"data":{"name":"pts"},"transform":[{"filter":"datum.g=='L'&&datum.b=='8d'"}],"mark":{"type":"point","filled":true,"size":400,"opacity":0},"encoding":{"shape":{"field":"s","type":"nominal","scale":{"domain":["Sample average within bin","Polynomial fit of order 1"],"range":["M0.55,0A0.2,0.2,0,1,1,0.95,0A0.2,0.2,0,1,1,0.55,0Z","M-1,-0.05L1,-0.05L1,0.05L-1,0.05Z"]},"legend":{"title":null,"orient":"none","legendX":9,"legendY":161,"direction":"horizontal"}},"color":{"field":"s","type":"nominal","scale":{"domain":["Sample average within bin","Polynomial fit of order 1"],"range":["#9a9a9a","#3a3a3a"]},"legend":{"title":null,"orient":"none","legendX":9,"legendY":161,"direction":"horizontal"}}}}]}
]}
]},
{"spacing":18,"resolve":{"scale":{"shape":"independent","color":"independent"}},"vconcat":[
{"spacing":15,"resolve":{"scale":{"shape":"independent","color":"independent"}},"hconcat":[
{"title":{"text":"Band 2","color":"#111111"},"width":253,"height":141,"encoding":{"x":{"field":"x","type":"quantitative","title":"Distance (Km)","scale":{"domain":[-5.25,5.17],"nice":false,"zero":false},"axis":{"values":[-5,0,5]}},"y":{"field":"y","type":"quantitative","title":"Posting Length (Days)","scale":{"domain":[2.165,2.81],"nice":false,"zero":false},"axis":{"values":[2.2,2.4,2.6,2.8]}}},
"layer":[{"data":{"name":"fits"},"transform":[{"filter":"datum.g=='R'&&datum.b=='2'"}],"mark":{"type":"line","color":"#3a3a3a","strokeWidth":1},"encoding":{"detail":{"field":"seg"}}},
{"data":{"name":"pts"},"transform":[{"filter":"datum.g=='R'&&datum.b=='2'"}],"mark":{"type":"circle","size":13,"color":"#9a9a9a","opacity":1}},
{"data":{"name":"pts"},"transform":[{"filter":"datum.g=='R'&&datum.b=='2'"}],"mark":{"type":"point","filled":true,"size":400,"opacity":0},"encoding":{"shape":{"field":"s","type":"nominal","scale":{"domain":["Sample average within bin","Polynomial fit of order 1"],"range":["M0.55,0A0.2,0.2,0,1,1,0.95,0A0.2,0.2,0,1,1,0.55,0Z","M-1,-0.05L1,-0.05L1,0.05L-1,0.05Z"]},"legend":{"title":null,"orient":"none","legendX":9,"legendY":161,"direction":"horizontal"}},"color":{"field":"s","type":"nominal","scale":{"domain":["Sample average within bin","Polynomial fit of order 1"],"range":["#9a9a9a","#3a3a3a"]},"legend":{"title":null,"orient":"none","legendX":9,"legendY":161,"direction":"horizontal"}}}}]},
{"title":{"text":"Band 3","color":"#111111"},"width":253,"height":141,"encoding":{"x":{"field":"x","type":"quantitative","title":"Distance (Km)","scale":{"domain":[-5.25,5.17],"nice":false,"zero":false},"axis":{"values":[-5,0,5]}},"y":{"field":"y","type":"quantitative","title":"Posting Length (Days)","scale":{"domain":[2.29,2.71],"nice":false,"zero":false},"axis":{"values":[2.3,2.4,2.5,2.6,2.7]}}},
"layer":[{"data":{"name":"fits"},"transform":[{"filter":"datum.g=='R'&&datum.b=='3'"}],"mark":{"type":"line","color":"#3a3a3a","strokeWidth":1},"encoding":{"detail":{"field":"seg"}}},
{"data":{"name":"pts"},"transform":[{"filter":"datum.g=='R'&&datum.b=='3'"}],"mark":{"type":"circle","size":13,"color":"#9a9a9a","opacity":1}},
{"data":{"name":"pts"},"transform":[{"filter":"datum.g=='R'&&datum.b=='3'"}],"mark":{"type":"point","filled":true,"size":400,"opacity":0},"encoding":{"shape":{"field":"s","type":"nominal","scale":{"domain":["Sample average within bin","Polynomial fit of order 1"],"range":["M0.55,0A0.2,0.2,0,1,1,0.95,0A0.2,0.2,0,1,1,0.55,0Z","M-1,-0.05L1,-0.05L1,0.05L-1,0.05Z"]},"legend":{"title":null,"orient":"none","legendX":9,"legendY":161,"direction":"horizontal"}},"color":{"field":"s","type":"nominal","scale":{"domain":["Sample average within bin","Polynomial fit of order 1"],"range":["#9a9a9a","#3a3a3a"]},"legend":{"title":null,"orient":"none","legendX":9,"legendY":161,"direction":"horizontal"}}}}]}
]},
{"spacing":15,"resolve":{"scale":{"shape":"independent","color":"independent"}},"hconcat":[
{"title":{"text":"Band 4","color":"#111111"},"width":253,"height":141,"encoding":{"x":{"field":"x","type":"quantitative","title":"Distance (Km)","scale":{"domain":[-5.25,5.17],"nice":false,"zero":false},"axis":{"values":[-5,0,5]}},"y":{"field":"y","type":"quantitative","title":"Posting Length (Days)","scale":{"domain":[2.39,2.71],"nice":false,"zero":false},"axis":{"values":[2.4,2.5,2.6,2.7]}}},
"layer":[{"data":{"name":"fits"},"transform":[{"filter":"datum.g=='R'&&datum.b=='4'"}],"mark":{"type":"line","color":"#3a3a3a","strokeWidth":1},"encoding":{"detail":{"field":"seg"}}},
{"data":{"name":"pts"},"transform":[{"filter":"datum.g=='R'&&datum.b=='4'"}],"mark":{"type":"circle","size":13,"color":"#9a9a9a","opacity":1}},
{"data":{"name":"pts"},"transform":[{"filter":"datum.g=='R'&&datum.b=='4'"}],"mark":{"type":"point","filled":true,"size":400,"opacity":0},"encoding":{"shape":{"field":"s","type":"nominal","scale":{"domain":["Sample average within bin","Polynomial fit of order 1"],"range":["M0.55,0A0.2,0.2,0,1,1,0.95,0A0.2,0.2,0,1,1,0.55,0Z","M-1,-0.05L1,-0.05L1,0.05L-1,0.05Z"]},"legend":{"title":null,"orient":"none","legendX":9,"legendY":161,"direction":"horizontal"}},"color":{"field":"s","type":"nominal","scale":{"domain":["Sample average within bin","Polynomial fit of order 1"],"range":["#9a9a9a","#3a3a3a"]},"legend":{"title":null,"orient":"none","legendX":9,"legendY":161,"direction":"horizontal"}}}}]},
{"title":{"text":"Band 5","color":"#111111"},"width":253,"height":141,"encoding":{"x":{"field":"x","type":"quantitative","title":"Distance (Km)","scale":{"domain":[-5.25,5.17],"nice":false,"zero":false},"axis":{"values":[-5,0,5]}},"y":{"field":"y","type":"quantitative","title":"Posting Length (Days)","scale":{"domain":[2.49,2.91],"nice":false,"zero":false},"axis":{"values":[2.5,2.6,2.7,2.8,2.9]}}},
"layer":[{"data":{"name":"fits"},"transform":[{"filter":"datum.g=='R'&&datum.b=='5'"}],"mark":{"type":"line","color":"#3a3a3a","strokeWidth":1},"encoding":{"detail":{"field":"seg"}}},
{"data":{"name":"pts"},"transform":[{"filter":"datum.g=='R'&&datum.b=='5'"}],"mark":{"type":"circle","size":13,"color":"#9a9a9a","opacity":1}},
{"data":{"name":"pts"},"transform":[{"filter":"datum.g=='R'&&datum.b=='5'"}],"mark":{"type":"point","filled":true,"size":400,"opacity":0},"encoding":{"shape":{"field":"s","type":"nominal","scale":{"domain":["Sample average within bin","Polynomial fit of order 1"],"range":["M0.55,0A0.2,0.2,0,1,1,0.95,0A0.2,0.2,0,1,1,0.55,0Z","M-1,-0.05L1,-0.05L1,0.05L-1,0.05Z"]},"legend":{"title":null,"orient":"none","legendX":9,"legendY":161,"direction":"horizontal"}},"color":{"field":"s","type":"nominal","scale":{"domain":["Sample average within bin","Polynomial fit of order 1"],"range":["#9a9a9a","#3a3a3a"]},"legend":{"title":null,"orient":"none","legendX":9,"legendY":161,"direction":"horizontal"}}}}]}
]},
{"spacing":15,"resolve":{"scale":{"shape":"independent","color":"independent"}},"hconcat":[
{"title":{"text":"Band 6","color":"#111111"},"width":253,"height":141,"encoding":{"x":{"field":"x","type":"quantitative","title":"Distance (Km)","scale":{"domain":[-5.25,5.17],"nice":false,"zero":false},"axis":{"values":[-5,0,5]}},"y":{"field":"y","type":"quantitative","title":"Posting Length (Days)","scale":{"domain":[2.46,4.03],"nice":false,"zero":false},"axis":{"values":[2.5,3,3.5,4]}}},
"layer":[{"data":{"name":"fits"},"transform":[{"filter":"datum.g=='R'&&datum.b=='6'"}],"mark":{"type":"line","color":"#3a3a3a","strokeWidth":1},"encoding":{"detail":{"field":"seg"}}},
{"data":{"name":"pts"},"transform":[{"filter":"datum.g=='R'&&datum.b=='6'"}],"mark":{"type":"circle","size":13,"color":"#9a9a9a","opacity":1}},
{"data":{"name":"pts"},"transform":[{"filter":"datum.g=='R'&&datum.b=='6'"}],"mark":{"type":"point","filled":true,"size":400,"opacity":0},"encoding":{"shape":{"field":"s","type":"nominal","scale":{"domain":["Sample average within bin","Polynomial fit of order 1"],"range":["M0.55,0A0.2,0.2,0,1,1,0.95,0A0.2,0.2,0,1,1,0.55,0Z","M-1,-0.05L1,-0.05L1,0.05L-1,0.05Z"]},"legend":{"title":null,"orient":"none","legendX":9,"legendY":161,"direction":"horizontal"}},"color":{"field":"s","type":"nominal","scale":{"domain":["Sample average within bin","Polynomial fit of order 1"],"range":["#9a9a9a","#3a3a3a"]},"legend":{"title":null,"orient":"none","legendX":9,"legendY":161,"direction":"horizontal"}}}}]},
{"title":{"text":"Band 7","color":"#111111"},"width":253,"height":141,"encoding":{"x":{"field":"x","type":"quantitative","title":"Distance (Km)","scale":{"domain":[-5.25,5.17],"nice":false,"zero":false},"axis":{"values":[-5,0,5]}},"y":{"field":"y","type":"quantitative","title":"Posting Length (Days)","scale":{"domain":[2.39,2.91],"nice":false,"zero":false},"axis":{"values":[2.4,2.5,2.6,2.7,2.8,2.9]}}},
"layer":[{"data":{"name":"fits"},"transform":[{"filter":"datum.g=='R'&&datum.b=='7'"}],"mark":{"type":"line","color":"#3a3a3a","strokeWidth":1},"encoding":{"detail":{"field":"seg"}}},
{"data":{"name":"pts"},"transform":[{"filter":"datum.g=='R'&&datum.b=='7'"}],"mark":{"type":"circle","size":13,"color":"#9a9a9a","opacity":1}},
{"data":{"name":"pts"},"transform":[{"filter":"datum.g=='R'&&datum.b=='7'"}],"mark":{"type":"point","filled":true,"size":400,"opacity":0},"encoding":{"shape":{"field":"s","type":"nominal","scale":{"domain":["Sample average within bin","Polynomial fit of order 1"],"range":["M0.55,0A0.2,0.2,0,1,1,0.95,0A0.2,0.2,0,1,1,0.55,0Z","M-1,-0.05L1,-0.05L1,0.05L-1,0.05Z"]},"legend":{"title":null,"orient":"none","legendX":9,"legendY":161,"direction":"horizontal"}},"color":{"field":"s","type":"nominal","scale":{"domain":["Sample average within bin","Polynomial fit of order 1"],"range":["#9a9a9a","#3a3a3a"]},"legend":{"title":null,"orient":"none","legendX":9,"legendY":161,"direction":"horizontal"}}}}]}
]},
{"spacing":15,"resolve":{"scale":{"shape":"independent","color":"independent"}},"hconcat":[
{"title":{"text":"Band 8a","color":"#111111"},"width":253,"height":141,"encoding":{"x":{"field":"x","type":"quantitative","title":"Distance (Km)","scale":{"domain":[-5.25,5.17],"nice":false,"zero":false},"axis":{"values":[-5,0,5]}},"y":{"field":"y","type":"quantitative","title":"Posting Length (Days)","scale":{"domain":[2.49,2.91],"nice":false,"zero":false},"axis":{"values":[2.5,2.6,2.7,2.8,2.9]}}},
"layer":[{"data":{"name":"fits"},"transform":[{"filter":"datum.g=='R'&&datum.b=='8a'"}],"mark":{"type":"line","color":"#3a3a3a","strokeWidth":1},"encoding":{"detail":{"field":"seg"}}},
{"data":{"name":"pts"},"transform":[{"filter":"datum.g=='R'&&datum.b=='8a'"}],"mark":{"type":"circle","size":13,"color":"#9a9a9a","opacity":1}},
{"data":{"name":"pts"},"transform":[{"filter":"datum.g=='R'&&datum.b=='8a'"}],"mark":{"type":"point","filled":true,"size":400,"opacity":0},"encoding":{"shape":{"field":"s","type":"nominal","scale":{"domain":["Sample average within bin","Polynomial fit of order 1"],"range":["M0.55,0A0.2,0.2,0,1,1,0.95,0A0.2,0.2,0,1,1,0.55,0Z","M-1,-0.05L1,-0.05L1,0.05L-1,0.05Z"]},"legend":{"title":null,"orient":"none","legendX":9,"legendY":161,"direction":"horizontal"}},"color":{"field":"s","type":"nominal","scale":{"domain":["Sample average within bin","Polynomial fit of order 1"],"range":["#9a9a9a","#3a3a3a"]},"legend":{"title":null,"orient":"none","legendX":9,"legendY":161,"direction":"horizontal"}}}}]},
{"title":{"text":"Band 8b","color":"#111111"},"width":253,"height":141,"encoding":{"x":{"field":"x","type":"quantitative","title":"Distance (Km)","scale":{"domain":[-5.25,5.17],"nice":false,"zero":false},"axis":{"values":[-5,0,5]}},"y":{"field":"y","type":"quantitative","title":"Posting Length (Days)","scale":{"domain":[1.78,2.82],"nice":false,"zero":false},"axis":{"values":[1.8,2,2.2,2.4,2.6,2.8]}}},
"layer":[{"data":{"name":"fits"},"transform":[{"filter":"datum.g=='R'&&datum.b=='8b'"}],"mark":{"type":"line","color":"#3a3a3a","strokeWidth":1},"encoding":{"detail":{"field":"seg"}}},
{"data":{"name":"pts"},"transform":[{"filter":"datum.g=='R'&&datum.b=='8b'"}],"mark":{"type":"circle","size":13,"color":"#9a9a9a","opacity":1}},
{"data":{"name":"pts"},"transform":[{"filter":"datum.g=='R'&&datum.b=='8b'"}],"mark":{"type":"point","filled":true,"size":400,"opacity":0},"encoding":{"shape":{"field":"s","type":"nominal","scale":{"domain":["Sample average within bin","Polynomial fit of order 1"],"range":["M0.55,0A0.2,0.2,0,1,1,0.95,0A0.2,0.2,0,1,1,0.55,0Z","M-1,-0.05L1,-0.05L1,0.05L-1,0.05Z"]},"legend":{"title":null,"orient":"none","legendX":9,"legendY":161,"direction":"horizontal"}},"color":{"field":"s","type":"nominal","scale":{"domain":["Sample average within bin","Polynomial fit of order 1"],"range":["#9a9a9a","#3a3a3a"]},"legend":{"title":null,"orient":"none","legendX":9,"legendY":161,"direction":"horizontal"}}}}]}
]},
{"spacing":15,"resolve":{"scale":{"shape":"independent","color":"independent"}},"hconcat":[
{"title":{"text":"Band 8c","color":"#111111"},"width":253,"height":141,"encoding":{"x":{"field":"x","type":"quantitative","title":"Distance (Km)","scale":{"domain":[-5.25,5.17],"nice":false,"zero":false},"axis":{"values":[-5,0,5]}},"y":{"field":"y","type":"quantitative","title":"Posting Length (Days)","scale":{"domain":[2.38,3.22],"nice":false,"zero":false},"axis":{"values":[2.4,2.6,2.8,3,3.2]}}},
"layer":[{"data":{"name":"fits"},"transform":[{"filter":"datum.g=='R'&&datum.b=='8c'"}],"mark":{"type":"line","color":"#3a3a3a","strokeWidth":1},"encoding":{"detail":{"field":"seg"}}},
{"data":{"name":"pts"},"transform":[{"filter":"datum.g=='R'&&datum.b=='8c'"}],"mark":{"type":"circle","size":13,"color":"#9a9a9a","opacity":1}},
{"data":{"name":"pts"},"transform":[{"filter":"datum.g=='R'&&datum.b=='8c'"}],"mark":{"type":"point","filled":true,"size":400,"opacity":0},"encoding":{"shape":{"field":"s","type":"nominal","scale":{"domain":["Sample average within bin","Polynomial fit of order 1"],"range":["M0.55,0A0.2,0.2,0,1,1,0.95,0A0.2,0.2,0,1,1,0.55,0Z","M-1,-0.05L1,-0.05L1,0.05L-1,0.05Z"]},"legend":{"title":null,"orient":"none","legendX":9,"legendY":161,"direction":"horizontal"}},"color":{"field":"s","type":"nominal","scale":{"domain":["Sample average within bin","Polynomial fit of order 1"],"range":["#9a9a9a","#3a3a3a"]},"legend":{"title":null,"orient":"none","legendX":9,"legendY":161,"direction":"horizontal"}}}}]},
{"title":{"text":"Band 8d","color":"#111111"},"width":253,"height":141,"encoding":{"x":{"field":"x","type":"quantitative","title":"Distance (Km)","scale":{"domain":[-5.27,4.5],"nice":false,"zero":false},"axis":{"values":[-4,-2,0,2,4]}},"y":{"field":"y","type":"quantitative","title":"Posting Length (Days)","scale":{"domain":[2.34,4.53],"nice":false,"zero":false},"axis":{"values":[2.5,3,3.5,4,4.5]}}},
"layer":[{"data":{"name":"fits"},"transform":[{"filter":"datum.g=='R'&&datum.b=='8d'"}],"mark":{"type":"line","color":"#3a3a3a","strokeWidth":1},"encoding":{"detail":{"field":"seg"}}},
{"data":{"name":"pts"},"transform":[{"filter":"datum.g=='R'&&datum.b=='8d'"}],"mark":{"type":"circle","size":13,"color":"#9a9a9a","opacity":1}},
{"data":{"name":"pts"},"transform":[{"filter":"datum.g=='R'&&datum.b=='8d'"}],"mark":{"type":"point","filled":true,"size":400,"opacity":0},"encoding":{"shape":{"field":"s","type":"nominal","scale":{"domain":["Sample average within bin","Polynomial fit of order 1"],"range":["M0.55,0A0.2,0.2,0,1,1,0.95,0A0.2,0.2,0,1,1,0.55,0Z","M-1,-0.05L1,-0.05L1,0.05L-1,0.05Z"]},"legend":{"title":null,"orient":"none","legendX":9,"legendY":161,"direction":"horizontal"}},"color":{"field":"s","type":"nominal","scale":{"domain":["Sample average within bin","Polynomial fit of order 1"],"range":["#9a9a9a","#3a3a3a"]},"legend":{"title":null,"orient":"none","legendX":9,"legendY":161,"direction":"horizontal"}}}}]}
]}
]}
],
"config":{
"font":"Liberation Sans, Arial, sans-serif",
"view":{"fill":"white","stroke":null},
"title":{"fontSize":11,"fontWeight":"normal","offset":-2,"frame":"group","font":"Liberation Sans, Arial, sans-serif"},
"axis":{"format":"~g","labelFontSize":8,"titleFontSize":8,"titleFontWeight":"normal","labelColor":"#222222","titleColor":"#222222","domainColor":"#555555","tickColor":"#555555","tickSize":4,"labelPadding":1,"titlePadding":0,"labelFont":"Liberation Sans, Arial, sans-serif","titleFont":"Liberation Sans, Arial, sans-serif"},
"axisX":{"grid":true,"gridColor":{"condition":{"test":"datum.value === 0","value":"#8c8c8c"},"value":"transparent"},"gridWidth":1.5,"labelAngle":0},
"axisY":{"grid":true,"gridColor":"#e6eef0","gridWidth":1,"labelAngle":270,"labelAlign":"center","labelBaseline":"bottom"},
"legend":{"strokeColor":"#555555","fillColor":"#ffffff","padding":2,"symbolSize":400,"symbolOpacity":1,"symbolStrokeWidth":0,"labelFontSize":8,"labelColor":"#222222","columnPadding":5,"labelOffset":3,"labelFont":"Liberation Sans, Arial, sans-serif"}
}
}
